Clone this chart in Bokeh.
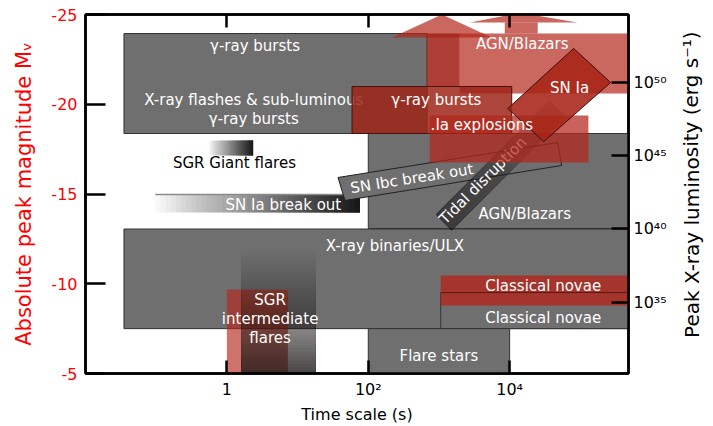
import math
import numpy as np
from bokeh.plotting import figure
from bokeh.layouts import row
from bokeh.models import Range1d, LinearAxis, LogAxis, FixedTicker, ColumnDataSource
from bokeh.core.properties import value
from bokeh.embed import file_html
from bokeh.resources import INLINE

# ---------------- axes ----------------
time_min, time_max = 0.01, 4.8e5          # time scale (s)
mag_faint, mag_bright = -5, -25            # absolute peak magnitude M_V
lum_min, lum_max = 30.13, 54.64            # log10 peak X-ray luminosity (erg/s)
time_ticks = [1, 100, 10000]
time_tick_labels = ["1", "10\u00b2", "10\u2074"]
mag_ticks = [-25, -20, -15, -10, -5]
mag_tick_labels = ["-25", "-20", "-15", "-10", "-5"]
lum_ticks = [35, 40, 45, 50]
lum_tick_labels = ["10\u00b3\u2075", "10\u2074\u2070", "10\u2074\u2075", "10\u2075\u2070"]

# ---------------- X-ray (grey) regions ----------------
xray_name = ["GRB", "AGN/Blazars", "X-ray binaries/ULX", "Classical novae", "Flare stars"]
xray_t0 = [0.035, 100, 0.035, 1060, 100]
xray_t1 = [680, 4.8e5, 4.8e5, 4.8e5, 1e4]
xray_m_bright = [-23.94, -18.37, -13.05, -9.51, -7.5]
xray_m_faint = [-18.37, -13.08, -7.5, -7.5, -5.0]

# ---------------- optical (red) regions ----------------
opt_name = ["AGN/Blazars", "GRB", ".Ia explosions", "Classical novae", "SGR intermediate"]
opt_t0 = [1970, 59, 740, 1060, 1.0]
opt_t1 = [4.8e5, 10700, 1.3e5, 4.8e5, 7.3]
opt_m_bright = [-23.94, -20.99, -19.37, -10.46, -9.68]
opt_m_faint = [-20.6, -18.37, -16.75, -8.79, -5.0]

# AGN/Blazars optical arrows (upper limits)
agn_shaft_t = [675, 1970]
agn_shaft_m = [-23.94, -20.99]
agn_head1_t = [216, 1100, 5585]
agn_head1_m = [-23.72, -25.0, -23.72]
agn_head2_t = [2730, 13900, 91600]
agn_head2_m = [-24.55, -25.1, -24.55]
agn_shaft2_t = [8530, 24940]
agn_shaft2_m = [-24.55, -23.94]

# SN Ia (optical) rotated region
snia_t = [80400, 268500, 30330, 9397]
snia_m = [-23.11, -21.21, -17.92, -19.76]

# SN Ibc break out (rotated)
snibc_t = [37.3, 47760, 54450, 46.9]
snibc_m = [-15.92, -17.87, -16.59, -14.64]

# Tidal disruption (rotated, fading): top-end corners A,B then lower-end C,D
tidal_t = [36800, 62000, 1520, 904]
tidal_m = [-20.21, -19.32, -12.97, -13.86]

# graded bars
sgr_giant_t = [0.527, 2.35]
sgr_giant_m = [-17.98, -17.14]
snia_bo_t = [0.097, 76.4]
snia_bo_m = [-14.97, -13.97]
sgr_int_xray_t = [1.59, 18.2]
sgr_int_xray_m = [-12.02, -5.0]

# ---------------- labels ----------------
grey_lab_text = ["\u03b3-ray bursts", "X-ray flashes & sub-luminous", "\u03b3-ray bursts",
                 "SN Ia break out", "SN Ibc break out", "Tidal disruption", "AGN/Blazars",
                 "X-ray binaries/ULX", "Classical novae", "Flare stars"]
grey_lab_t = [2.5, 2.4, 2.4, 6.3, 414, 4180, 16340, 238, 29800, 997]
grey_lab_m = [-23.27, -20.21, -19.2, -14.36, -15.86, -15.75, -13.86, -12.13, -8.1, -6.0]
grey_lab_angle = [0, 0, 0, 0, 9, 45, 0, 0, 0, 0]

red_lab_text = ["AGN/Blazars", "\u03b3-ray bursts", ".Ia explosions", "SN Ia", "Classical novae",
                "SGR", "intermediate", "flares"]
red_lab_t = [15070, 919, 4035, 70600, 29800, 4.09, 4.09, 4.09]
red_lab_m = [-23.33, -20.21, -18.82, -20.93, -9.9, -9.07, -8.01, -7.0]

sgr_giant_text = "SGR Giant flares"
sgr_giant_lab_t, sgr_giant_lab_m = 1.28, -16.75

x_title = "Time scale (s)"
y_title = "Absolute peak magnitude M\u1d65"
y2_title = "Peak X-ray luminosity (erg s\u207b\u00b9)"

# ---------------- styles ----------------
GREY = "#6f6f6f"
RED = "#b3261b"
FONT = "DejaVu Sans"
MAIN_W, TOTAL_W, H = 669, 713, 426

p = figure(width=MAIN_W, height=H, x_axis_type="log",
           x_range=Range1d(time_min, time_max), y_range=Range1d(mag_faint, mag_bright),
           output_backend="svg", toolbar_location=None,
           min_border_left=85, min_border_right=MAIN_W - 629, min_border_top=14, min_border_bottom=53,
           background_fill_color="white", border_fill_color="white")
p.xgrid.visible = False
p.ygrid.visible = False
p.outline_line_color = "black"
p.outline_line_width = 2.5
p.outline_line_alpha = 1.0


def cum_steps(a0, a1, n):
    targets = np.linspace(a0, a1, n)
    out, prev = [], 0.0
    for a in targets:
        out.append(max(0.0, 1 - (1 - a) / (1 - prev)))
        prev = a
    return out


def hgrad(t, m, color, a0, a1, n=40):
    lx = np.linspace(np.log10(t[0]), np.log10(t[1]), n + 1)[:-1]
    src = ColumnDataSource(dict(left=10 ** lx, right=[t[1]] * n, top=[m[0]] * n,
                                bottom=[m[1]] * n, alpha=cum_steps(a0, a1, n)))
    p.quad(left="left", right="right", top="top", bottom="bottom", source=src,
           fill_color=color, fill_alpha="alpha", line_color=None)


def vgrad(t, m, color, a0, a1, n=40):
    ly = np.linspace(m[0], m[1], n + 1)[:-1]
    src = ColumnDataSource(dict(left=[t[0]] * n, right=[t[1]] * n, top=ly,
                                bottom=[m[1]] * n, alpha=cum_steps(a0, a1, n)))
    p.quad(left="left", right="right", top="top", bottom="bottom", source=src,
           fill_color=color, fill_alpha="alpha", line_color=None)


# grey X-ray boxes
p.quad(left=xray_t0, right=xray_t1, top=xray_m_bright, bottom=xray_m_faint,
       fill_color=GREY, fill_alpha=1.0, line_color="#333333", line_width=1)

# graded bars
hgrad(sgr_giant_t, sgr_giant_m, "#111111", 0.0, 0.95)
hgrad(snia_bo_t, snia_bo_m, "#111111", 0.03, 0.95)
p.segment(x0=[snia_bo_t[0]], x1=[snia_bo_t[1]], y0=[snia_bo_m[0]], y1=[snia_bo_m[0]],
          line_color="#8a8a8a", line_width=1.5)

# SGR intermediate flares: optical (red) and X-ray (grey, fading)
p.quad(left=[opt_t0[4]], right=[opt_t1[4]], top=[opt_m_bright[4]], bottom=[opt_m_faint[4]],
       fill_color=RED, fill_alpha=0.65, line_color=None)
vgrad(sgr_int_xray_t, sgr_int_xray_m, "#2b2424", 0.0, 0.8)

# SN Ibc break out
p.patch(x=snibc_t, y=snibc_m, fill_color=GREY, fill_alpha=1.0, line_color="#222222", line_width=1)

# Tidal disruption fading bar
lt = np.log10(tidal_t)
A, B, C, D = [np.array([lt[i], tidal_m[i]]) for i in range(4)]
n = 30
s_vals = np.linspace(0, 1, n + 1)[:-1]
xs, ys = [], []
for s in s_vals:
    pl = A + s * (D - A)
    pr = B + s * (C - B)
    poly = [pl, pr, C, D]
    xs.append([10 ** q[0] for q in poly])
    ys.append([q[1] for q in poly])
p.patches(xs="xs", ys="ys", source=ColumnDataSource(dict(xs=xs, ys=ys, alpha=cum_steps(0.3, 0.7, n))),
          fill_color="#333333", fill_alpha="alpha", line_color=None)

# grey-layer labels
gsrc = ColumnDataSource(dict(x=grey_lab_t, y=grey_lab_m, text=grey_lab_text,
                             angle=np.radians(grey_lab_angle)))
p.text(x="x", y="y", text="text", angle="angle", source=gsrc, text_color="white",
       text_font=value(FONT), text_font_size="15px", text_align="center", text_baseline="middle")
p.text(x=[sgr_giant_lab_t], y=[sgr_giant_lab_m], text=[sgr_giant_text], text_color="black",
       text_font=value(FONT), text_font_size="15px", text_align="center", text_baseline="middle")

# optical red regions
p.patch(x=agn_head1_t, y=agn_head1_m, fill_color=RED, fill_alpha=0.7, line_color=None)
p.patch(x=agn_head2_t, y=agn_head2_m, fill_color=RED, fill_alpha=0.7, line_color=None)
p.quad(left=[agn_shaft2_t[0]], right=[agn_shaft2_t[1]], top=[agn_shaft2_m[0]], bottom=[agn_shaft2_m[1]],
       fill_color=RED, fill_alpha=0.7, line_color=None)
p.quad(left=[opt_t0[0]], right=[opt_t1[0]], top=[opt_m_bright[0]], bottom=[opt_m_faint[0]],
       fill_color=RED, fill_alpha=0.7, line_color=None)
p.quad(left=[agn_shaft_t[0]], right=[agn_shaft_t[1]], top=[agn_shaft_m[0]], bottom=[agn_shaft_m[1]],
       fill_color="#a3231a", fill_alpha=0.88, line_color=None)
# GRB optical
p.quad(left=[opt_t0[1]], right=[opt_t1[1]], top=[opt_m_bright[1]], bottom=[opt_m_faint[1]],
       fill_color="#9e2418", fill_alpha=0.85, line_color="#4a120c", line_width=1)
# .Ia explosions
p.quad(left=[opt_t0[2]], right=[opt_t1[2]], top=[opt_m_bright[2]], bottom=[opt_m_faint[2]],
       fill_color=RED, fill_alpha=0.72, line_color=None)
# classical novae optical
p.quad(left=[opt_t0[3]], right=[opt_t1[3]], top=[opt_m_bright[3]], bottom=[opt_m_faint[3]],
       fill_color=RED, fill_alpha=0.8, line_color=None)
p.segment(x0=[opt_t0[3]], x1=[opt_t1[3]], y0=[xray_m_bright[3]], y1=[xray_m_bright[3]],
          line_color="#5a1a14", line_width=1)
# SN Ia
p.patch(x=snia_t, y=snia_m, fill_color="#a82418", fill_alpha=0.88, line_color="#3a0e0a", line_width=1)

rsrc = ColumnDataSource(dict(x=red_lab_t, y=red_lab_m, text=red_lab_text))
p.text(x="x", y="y", text="text", source=rsrc, text_color="white",
       text_font=value(FONT), text_font_size="15px", text_align="center", text_baseline="middle")

# ---------------- axes styling ----------------
def style_axis(ax, tick_in, color="black"):
    ax.axis_line_color = "black"
    ax.axis_line_width = 2.5
    ax.major_tick_line_color = "black"
    ax.major_tick_line_width = 2.5
    ax.major_tick_in = tick_in
    ax.major_tick_out = 0
    ax.minor_tick_line_color = None
    ax.major_label_text_font = FONT
    ax.major_label_text_font_size = "16px"
    ax.major_label_text_color = color
    ax.axis_label_text_font = FONT
    ax.axis_label_text_font_style = "normal"
    ax.axis_label_text_color = color


xa = p.xaxis[0]
xa.ticker = FixedTicker(ticks=time_ticks)
xa.major_label_overrides = dict(zip(time_ticks, time_tick_labels))
style_axis(xa, 13)
xa.axis_label = x_title
xa.axis_label_text_font_size = "16px"
xa.major_label_standoff = 6
xa.axis_label_standoff = 3

ya = p.yaxis[0]
ya.ticker = FixedTicker(ticks=mag_ticks)
ya.major_label_overrides = dict(zip(mag_ticks, mag_tick_labels))
style_axis(ya, 20, "#ff0000")
ya.axis_label = y_title
ya.axis_label_text_font_size = "21px"
ya.major_label_standoff = 8
ya.axis_label_standoff = 12

p.extra_y_ranges = {"lum": Range1d(lum_min, lum_max)}
ra = LinearAxis(y_range_name="lum", ticker=FixedTicker(ticks=lum_ticks))
ra.major_label_overrides = dict(zip(lum_ticks, lum_tick_labels))
style_axis(ra, 17)
ra.major_label_standoff = 5
p.add_layout(ra, "right")

ta = LogAxis(ticker=FixedTicker(ticks=time_ticks))
style_axis(ta, 13)
ta.major_label_overrides = {t: "" for t in time_ticks}
ta.major_label_text_font_size = "0px"
ta.major_label_standoff = 0
p.add_layout(ta, "above")

# ---------------- right-hand title strip (reads bottom-to-top) ----------------
q = figure(width=TOTAL_W - MAIN_W, height=H, x_range=Range1d(0, 1), y_range=Range1d(0, 1),
           output_backend="svg", toolbar_location=None,
           min_border_left=0, min_border_right=0, min_border_top=0, min_border_bottom=0,
           x_axis_location=None, y_axis_location=None)
q.outline_line_color = None
q.xgrid.visible = False
q.ygrid.visible = False
q.text(x=[0.5], y=[0.526], text=[y2_title], angle=[math.pi / 2], text_color="black",
       text_font=value(FONT), text_font_size="20px", text_align="center", text_baseline="middle")

layout = row(p, q, spacing=0)
open("out.html", "w").write(file_html(layout, INLINE))
